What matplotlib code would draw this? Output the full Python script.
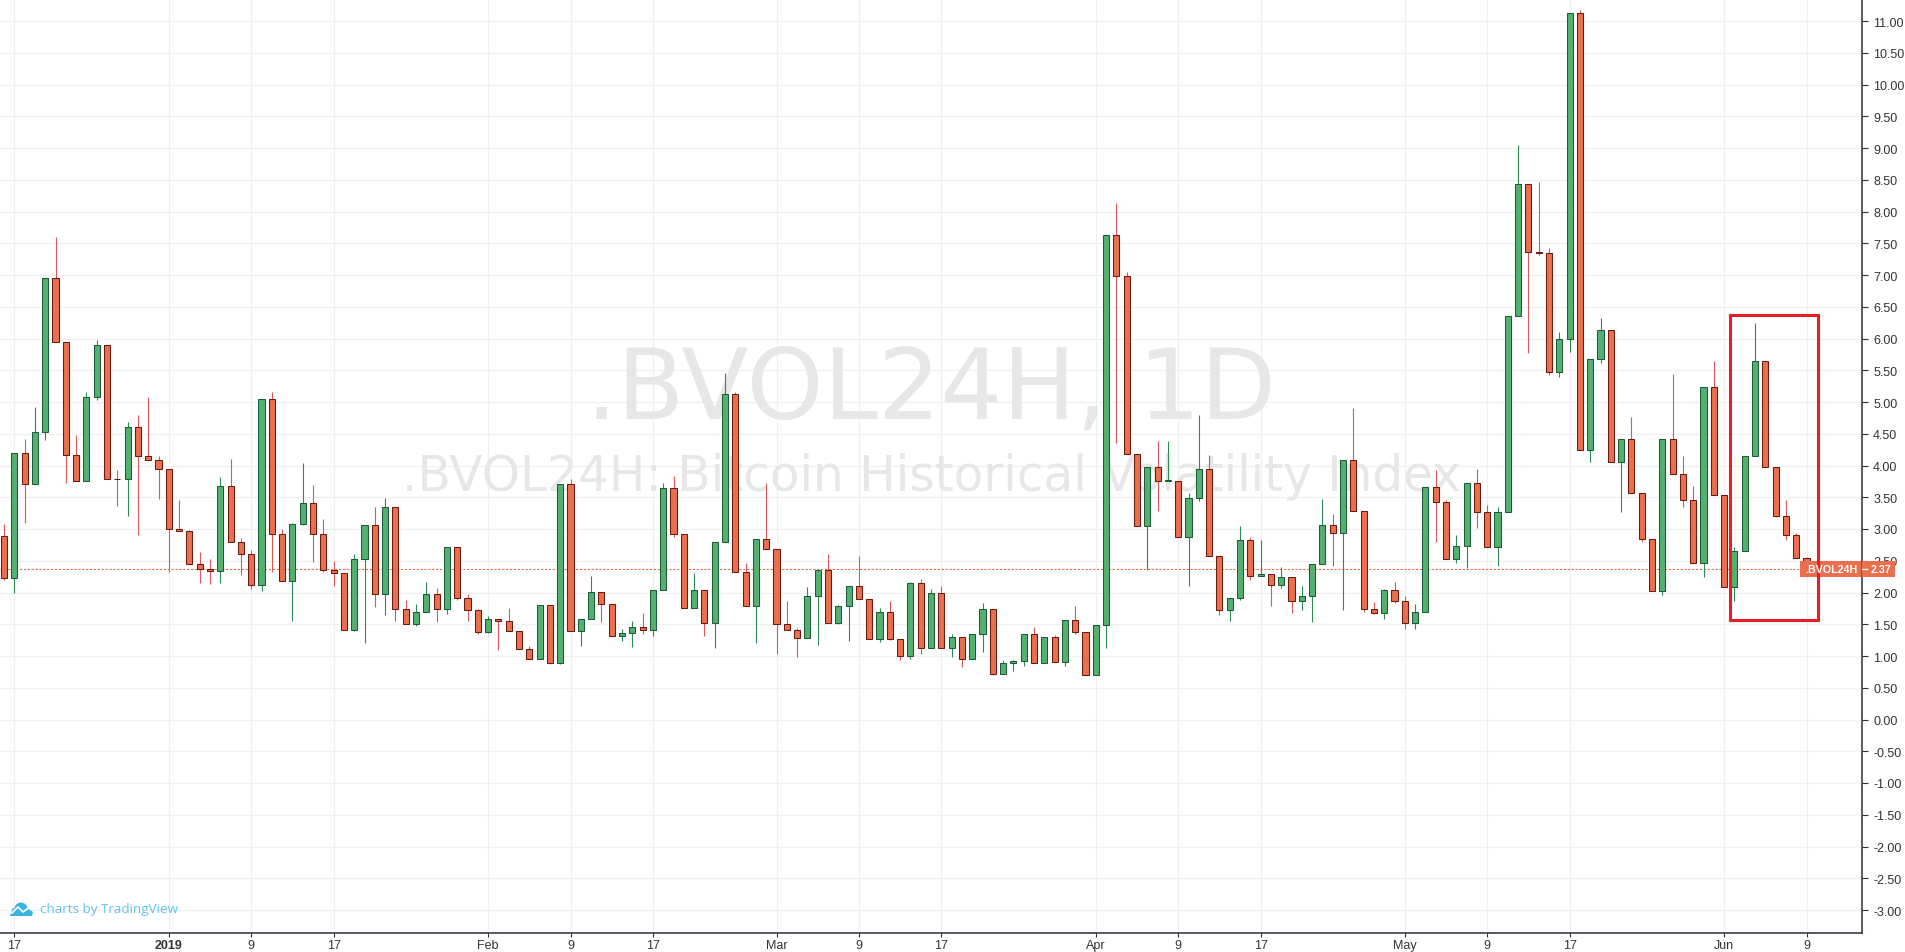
# -*- coding: utf-8 -*-
import matplotlib
matplotlib.use('Agg')
import matplotlib.pyplot as plt
from matplotlib.patches import Rectangle, Circle, Polygon

# Daily candles, first one is 16 Dec 2018, last one is 9 Jun 2019
FIRST_DAY = -1

OPENS = [2.89, 2.23, 4.20, 3.71, 4.53, 6.95, 5.94, 4.16, 3.76, 5.08, 5.90, 3.79, 3.79, 4.60, 4.15,
         4.09, 3.94, 3.00, 2.97, 2.45, 2.37, 2.34, 3.68, 2.80, 2.61, 2.12, 5.05, 2.92, 2.18, 3.08,
         3.41, 2.92, 2.36, 2.31, 1.41, 2.53, 3.06, 1.98, 3.35, 1.74, 1.50, 1.69, 1.98, 1.74, 2.72,
         1.91, 1.72, 1.38, 1.59, 1.55, 1.40, 1.11, 0.96, 1.81, 0.89, 3.71, 1.40, 1.59, 2.01, 1.82,
         1.32, 1.37, 1.46, 1.41, 2.04, 3.65, 2.92, 1.76, 2.04, 1.52, 2.80, 5.13, 2.33, 1.79, 2.84,
         2.69, 1.51, 1.41, 1.29, 1.95, 2.36, 1.52, 1.79, 2.10, 1.90, 1.26, 1.70, 1.27, 1.00, 2.15,
         1.13, 2.00, 1.13, 1.30, 0.95, 1.35, 1.74, 0.72, 0.89, 0.92, 1.35, 0.89, 1.30, 0.91, 1.57,
         1.38, 0.70, 1.49, 7.63, 6.98, 4.18, 3.05, 3.98, 3.76, 3.76, 2.87, 3.49, 3.94, 2.57, 1.72,
         1.91, 2.83, 2.26, 2.29, 2.12, 2.24, 1.87, 1.94, 2.45, 3.06, 2.94, 4.09, 3.28, 1.74, 1.68,
         2.04, 1.87, 1.52, 1.69, 3.66, 3.42, 2.52, 2.74, 3.73, 3.26, 2.71, 3.26, 6.35, 8.43, 7.36,
         7.34, 5.47, 6.00, 11.12, 4.24, 5.67, 6.13, 4.05, 4.41, 3.56, 2.85, 2.02, 4.41, 3.86, 3.45,
         2.47, 5.24, 3.54, 2.08, 2.66, 4.15, 5.64, 3.98, 3.21, 2.90, 2.54]

HIGHS = [3.08, 4.20, 4.42, 4.92, 6.95, 7.60, 5.94, 4.48, 5.16, 5.98, 5.90, 3.93, 4.68, 4.80, 5.08,
         4.15, 3.94, 3.46, 2.99, 2.64, 2.53, 3.82, 4.11, 2.86, 2.67, 5.05, 5.15, 3.00, 3.10, 4.04,
         3.70, 3.16, 2.50, 2.31, 2.60, 3.06, 3.34, 3.49, 3.35, 1.88, 1.82, 2.17, 2.07, 2.72, 2.72,
         1.98, 1.74, 1.63, 1.59, 1.76, 1.40, 1.15, 1.81, 1.81, 3.71, 3.79, 1.59, 2.26, 2.01, 1.82,
         1.42, 1.55, 1.68, 2.04, 3.72, 3.84, 2.92, 2.30, 2.04, 2.80, 5.46, 5.16, 2.47, 2.84, 3.72,
         2.69, 1.86, 1.44, 2.08, 2.36, 2.61, 1.81, 2.10, 2.57, 1.90, 1.76, 1.86, 1.27, 2.17, 2.22,
         2.05, 2.10, 1.35, 1.30, 1.35, 1.84, 1.74, 0.94, 0.94, 1.35, 1.46, 1.30, 1.33, 1.57, 1.79,
         1.38, 1.49, 7.63, 8.14, 7.05, 4.18, 3.98, 4.39, 4.39, 3.76, 3.57, 4.80, 4.17, 2.57, 1.91,
         3.05, 2.88, 2.83, 2.29, 2.40, 2.24, 2.11, 2.45, 3.48, 3.24, 4.09, 4.91, 3.28, 1.85, 2.06,
         2.17, 1.95, 1.82, 3.66, 3.93, 3.45, 2.90, 3.73, 3.94, 3.38, 3.35, 6.35, 9.05, 8.43, 8.47,
         7.42, 6.11, 11.12, 11.17, 5.67, 6.32, 6.13, 4.41, 4.77, 3.56, 2.85, 4.41, 5.44, 4.15, 3.68,
         5.24, 5.65, 3.54, 2.72, 4.15, 6.24, 5.64, 3.98, 3.45, 2.94, 2.56]

LOWS = [2.19, 1.99, 3.09, 3.71, 4.40, 5.94, 3.73, 3.76, 3.76, 5.03, 3.79, 3.37, 3.20, 2.90, 4.09,
        3.48, 2.33, 2.97, 2.45, 2.15, 2.13, 2.15, 2.80, 2.27, 2.05, 2.02, 2.32, 2.18, 1.55, 3.06,
        2.48, 2.32, 2.11, 1.41, 1.39, 1.20, 1.77, 1.64, 1.55, 1.50, 1.47, 1.69, 1.53, 1.66, 1.88,
        1.55, 1.34, 1.36, 1.09, 1.40, 1.11, 0.96, 0.96, 0.87, 0.87, 1.40, 1.16, 1.59, 1.53, 1.32,
        1.23, 1.14, 1.35, 1.31, 2.04, 2.88, 1.76, 1.76, 1.31, 1.12, 2.80, 2.33, 1.79, 1.20, 2.69,
        1.03, 1.41, 0.98, 1.29, 1.17, 1.52, 1.50, 1.24, 1.90, 1.26, 1.22, 1.25, 0.94, 0.95, 1.03,
        1.13, 1.13, 0.98, 0.82, 0.95, 1.07, 0.70, 0.72, 0.76, 0.84, 0.89, 0.89, 0.91, 0.85, 1.34,
        0.70, 0.70, 1.12, 4.36, 4.18, 3.05, 2.35, 3.29, 3.76, 2.87, 2.10, 3.44, 2.57, 1.64, 1.55,
        1.88, 2.19, 2.26, 1.78, 2.07, 1.67, 1.72, 1.53, 2.45, 2.41, 1.72, 3.28, 1.69, 1.66, 1.58,
        1.83, 1.42, 1.42, 1.69, 2.79, 2.52, 2.47, 2.38, 3.02, 2.71, 2.41, 3.26, 6.35, 5.77, 7.32,
        5.43, 5.39, 5.79, 4.24, 4.06, 5.61, 4.05, 3.27, 3.56, 2.79, 2.02, 1.96, 3.86, 3.34, 2.47,
        2.25, 3.54, 2.08, 1.87, 2.66, 4.15, 3.98, 3.19, 2.82, 2.54, 2.37]

CLOSES = [2.23, 4.20, 3.71, 4.53, 6.95, 5.94, 4.16, 3.76, 5.08, 5.90, 3.79, 3.78, 4.60, 4.15, 4.09,
          3.94, 3.00, 2.97, 2.45, 2.37, 2.34, 3.68, 2.80, 2.61, 2.12, 5.05, 2.92, 2.18, 3.08, 3.41,
          2.92, 2.36, 2.31, 1.41, 2.53, 3.06, 1.98, 3.35, 1.74, 1.50, 1.69, 1.98, 1.74, 2.72, 1.91,
          1.72, 1.38, 1.59, 1.55, 1.40, 1.11, 0.96, 1.81, 0.89, 3.71, 1.40, 1.59, 2.01, 1.82, 1.32,
          1.37, 1.46, 1.41, 2.04, 3.65, 2.92, 1.76, 2.04, 1.52, 2.80, 5.13, 2.33, 1.79, 2.84, 2.69,
          1.51, 1.41, 1.29, 1.95, 2.36, 1.52, 1.79, 2.10, 1.90, 1.26, 1.70, 1.27, 1.00, 2.15, 1.13,
          2.00, 1.13, 1.30, 0.95, 1.35, 1.74, 0.72, 0.89, 0.92, 1.35, 0.89, 1.30, 0.91, 1.57, 1.38,
          0.70, 1.49, 7.63, 6.98, 4.18, 3.05, 3.98, 3.76, 3.77, 2.87, 3.49, 3.94, 2.57, 1.72, 1.91,
          2.83, 2.26, 2.29, 2.12, 2.24, 1.87, 1.94, 2.45, 3.06, 2.94, 4.09, 3.28, 1.74, 1.68, 2.04,
          1.87, 1.52, 1.69, 3.66, 3.42, 2.52, 2.74, 3.73, 3.26, 2.71, 3.26, 6.35, 8.43, 7.36, 7.34,
          5.47, 6.00, 11.12, 4.24, 5.67, 6.13, 4.05, 4.41, 3.56, 2.85, 2.02, 4.41, 3.86, 3.45, 2.47,
          5.24, 3.54, 2.08, 2.66, 4.15, 5.64, 3.98, 3.21, 2.90, 2.54, 2.37]

LAST_PRICE = 2.37

# Time axis, days counted from 17 Dec 2018
TICK_DAYS = [0, 15, 23, 31, 46, 54, 62, 74, 82, 90, 105, 113, 121, 135, 143, 151, 166, 174]
TICK_LABELS = ['17', '2019', '9', '17', 'Feb', '9', '17', 'Mar', '9', '17',
               'Apr', '9', '17', 'May', '9', '17', 'Jun', '9']

# Price axis
PRICE_TICKS = [11.0, 10.5, 10.0, 9.5, 9.0, 8.5, 8.0, 7.5, 7.0, 6.5, 6.0, 5.5, 5.0, 4.5, 4.0, 3.5, 3.0,
               2.5, 2.0, 1.5, 1.0, 0.5, 0.0, -0.5, -1.0, -1.5, -2.0, -2.5, -3.0]

# Colours
UP_FILL = '#53B06F'
UP_EDGE = '#1E5B3A'
UP_WICK = '#2E8B57'
DOWN_FILL = '#E96F4E'
DOWN_EDGE = '#6B1A10'
DOWN_WICK = '#D9585C'
GRID = '#F0F0F0'
AXIS = '#2A2E39'
TEXT = '#333333'
WATERMARK = '#E7E7E7'
TAG = '#E96F4E'
BOX_RED = '#ED1C24'
LOGO_BLUE = '#3BB3E4'
LOGO_TEXT = '#62C4EE'

WIDTH = 1905
HEIGHT = 953
AXIS_X = 1862
AXIS_Y = 934


def plotCandles(ax):
    days = list(range(FIRST_DAY, FIRST_DAY + len(CLOSES)))
    up = [c >= o for o, c in zip(OPENS, CLOSES)]

    ax.vlines(days, LOWS, HIGHS, colors=[UP_WICK if u else DOWN_WICK for u in up],
              linewidth=0.8, zorder=3)
    ax.bar(days, [abs(c - o) for o, c in zip(OPENS, CLOSES)],
           bottom=[min(o, c) for o, c in zip(OPENS, CLOSES)], width=0.6,
           color=[UP_FILL if u else DOWN_FILL for u in up],
           edgecolor=[UP_EDGE if u else DOWN_EDGE for u in up], linewidth=0.75, zorder=4)


def plotAxes(ax):
    # 10.30 px per day, 63.5 px per price unit
    ax.set_xlim((0 - 14.3) / 10.30, (AXIS_X - 14.3) / 10.30)
    ax.set_ylim(11 - (AXIS_Y - 22) / 63.5, 11 + 22 / 63.5)

    ax.set_xticks(TICK_DAYS)
    ax.set_xticklabels(TICK_LABELS, fontsize=9, color=TEXT, fontfamily='Liberation Sans')
    ax.get_xticklabels()[1].set_fontweight('bold')
    ax.set_yticks(PRICE_TICKS)
    ax.set_yticklabels(['%.2f' % p for p in PRICE_TICKS], fontsize=9, color=TEXT,
                       fontfamily='Liberation Sans')
    ax.yaxis.tick_right()
    ax.tick_params(axis='x', length=3, width=0.8, color=AXIS, pad=1)
    ax.tick_params(axis='y', length=4, width=0.8, color=AXIS, pad=4)

    ax.grid(True, color=GRID, linewidth=0.85, zorder=0)
    ax.set_axisbelow(True)
    for side in ['top', 'left']:
        ax.spines[side].set_visible(False)
    for side in ['right', 'bottom']:
        ax.spines[side].set_color(AXIS)
        ax.spines[side].set_linewidth(1.1)

    ax.axhline(LAST_PRICE, color=TAG, linewidth=0.8, linestyle=(0, (2, 1.5)), zorder=2)

    ax.text(0.5, 0.581, '.BVOL24H, 1D', transform=ax.transAxes, ha='center', va='center',
            fontsize=70.5, color=WATERMARK, zorder=1)
    ax.text(0.5, 0.489, '.BVOL24H: Bitcoin Historical Volatility Index', transform=ax.transAxes,
            ha='center', va='center', fontsize=35, color=WATERMARK, zorder=1)


def plotOverlay(over):
    # Overlay uses picture pixels
    over.set_xlim(0, WIDTH)
    over.set_ylim(HEIGHT, 0)
    over.axis('off')
    over.patch.set_alpha(0)

    # Price tags
    over.add_patch(Rectangle((1800, 562), 61, 16, facecolor=TAG, edgecolor='none'))
    over.add_patch(Rectangle((1862, 562), 33, 16, facecolor=TAG, edgecolor='none'))
    over.plot([1862, 1867], [570, 570], color='white', linewidth=1)
    over.text(1831, 570, '.BVOL24H', color='white', fontsize=7.7, ha='center', va='center',
              fontweight='bold', fontfamily='Liberation Sans')
    over.text(1881, 570, '%.2f' % LAST_PRICE, color='white', fontsize=7.7, ha='center', va='center',
              fontweight='bold', fontfamily='Liberation Sans')

    # Red box drawn on the screenshot
    over.add_patch(Rectangle((1730, 316), 88, 305, facecolor='none', edgecolor=BOX_RED,
                             linewidth=2.2, joinstyle='miter'))

    # TradingView logo
    over.add_patch(Circle((21, 910), 6.5, facecolor=LOGO_BLUE, edgecolor='none'))
    over.add_patch(Polygon([(10, 917), (13, 909), (27, 909), (33, 913), (32, 917)],
                           facecolor=LOGO_BLUE, edgecolor='none'))
    over.plot([12, 18, 23, 30], [914, 908, 913, 908], color='white', linewidth=1.2)
    over.text(40, 910, 'charts by TradingView', color=LOGO_TEXT, fontsize=9.7, ha='left',
              va='center', fontfamily='Open Sans')


if __name__ == '__main__':
    fig = plt.figure(figsize=(WIDTH / 100, HEIGHT / 100), dpi=100)
    ax = fig.add_axes([0, 1 - AXIS_Y / HEIGHT, AXIS_X / WIDTH, AXIS_Y / HEIGHT])
    plotAxes(ax)
    plotCandles(ax)

    over = fig.add_axes([0, 0, 1, 1], zorder=10)
    plotOverlay(over)

    fig.savefig('out.png', dpi=100)
